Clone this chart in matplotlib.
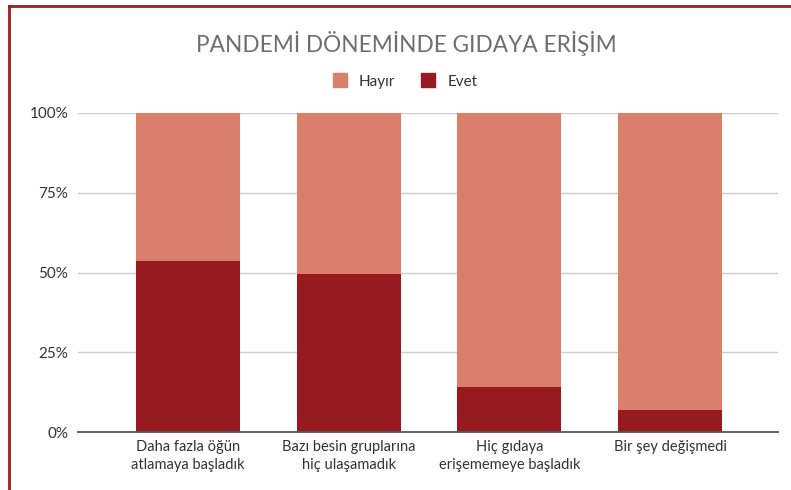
import matplotlib
matplotlib.use("Agg")
import matplotlib.pyplot as plt
from matplotlib.lines import Line2D
from matplotlib.patches import Patch
import numpy as np

categories = ["Daha fazla öğün\natlamaya başladık", "Bazı besin gruplarına\nhiç ulaşamadık",
              "Hiç gıdaya\nerişememeye başladık", "Bir şey değişmedi"]
evet = [53.6, 49.5, 14.2, 7.0]
hayir = [100 - v for v in evet]
yticks = [0, 25, 50, 75, 100]
ytick_labels = ["0%", "25%", "50%", "75%", "100%"]

C_HAYIR = "#DB7F6D"
C_EVET = "#961A1F"
FONT = ["Lato", "DejaVu Sans"]
plt.rcParams['font.family'] = FONT

fig = plt.figure(figsize=(7.91, 4.90), dpi=100)
W, H = 791, 490
ax = fig.add_axes([78 / W, 1 - 432 / H, (778 - 78) / W, (432 - 113) / H])

x = np.arange(len(categories))
ax.bar(x, evet, width=0.647, color=C_EVET, zorder=3)
ax.bar(x, hayir, bottom=evet, width=0.647, color=C_HAYIR, zorder=3)

ax.set_xlim(-0.6846, 3.672)
ax.set_ylim(0, 100)
ax.set_yticks(yticks)
ax.set_yticklabels(ytick_labels)
ax.set_xticks(x)
ax.set_xticklabels(categories, linespacing=1.3)
ax.yaxis.grid(True, color="#CCCCCC", linewidth=1, zorder=0)
for s in ["top", "right", "left"]:
    ax.spines[s].set_visible(False)
ax.spines["bottom"].set_color("#555555")
ax.spines["bottom"].set_linewidth(1.3)
ax.spines["bottom"].set_zorder(4)
ax.tick_params(axis="both", length=0, colors="#333333")
ax.tick_params(axis="y", pad=7, labelsize=11)
ax.tick_params(axis="x", pad=6, labelsize=10.5)

fig.text(406 / W, 1 - 44 / H, "PANDEMİ DÖNEMİNDE GIDAYA ERİŞİM", ha="center", va="center",
         fontsize=16.3, color="#6E6E6E")

handles = [Patch(color=C_HAYIR), Patch(color=C_EVET)]
fig.legend(handles, ["Hayır", "Evet"], loc="center", bbox_to_anchor=(405 / W, 1 - 81 / H),
           ncol=2, frameon=False, fontsize=11, handlelength=0.9, handleheight=1.0,
           handletextpad=0.8, columnspacing=1.7, labelcolor="#333333")

# frame border (top and left)
fig.add_artist(Line2D([9 / W, 9 / W], [0, 1 - 6 / H], transform=fig.transFigure, color="#9B1C1F", linewidth=2))
fig.add_artist(Line2D([9 / W, 1], [1 - 6 / H, 1 - 6 / H], transform=fig.transFigure, color="#9B1C1F", linewidth=2))

fig.savefig("out.png", dpi=100)
